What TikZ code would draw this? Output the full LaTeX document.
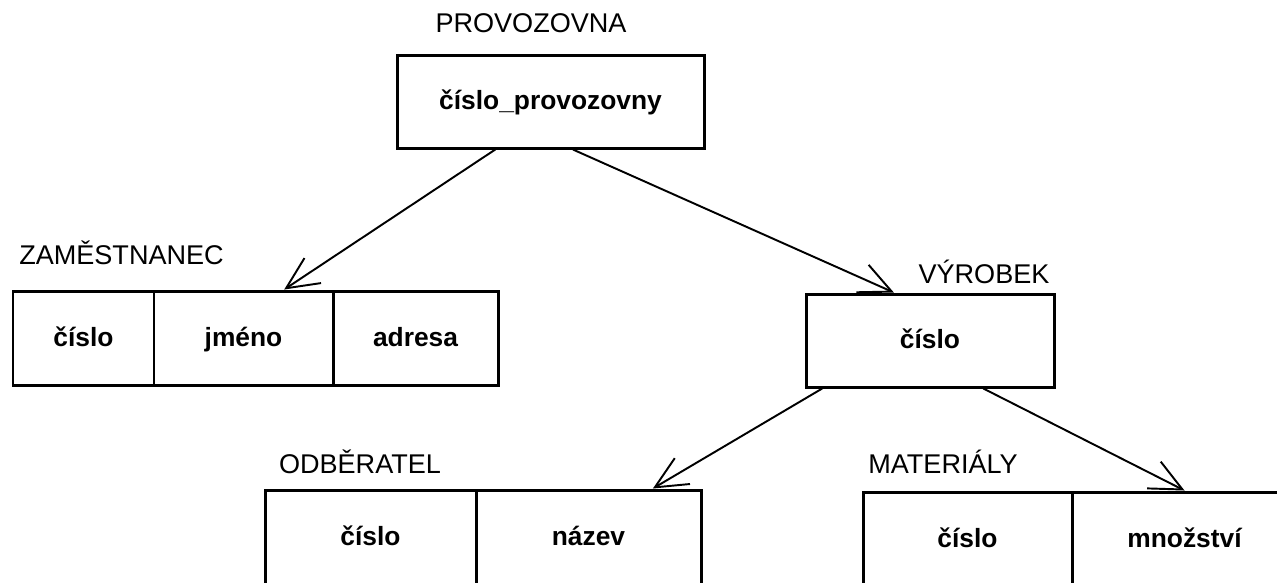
\documentclass[tikz,border=0pt]{standalone}
\usepackage{fontspec}
\setmainfont{Liberation Sans}
\usetikzlibrary{arrows.meta}

\begin{document}
\begin{tikzpicture}[
    bunka/.style={draw, line width=0.85pt, inner sep=0pt, minimum height=0.94cm, text height=0.22cm, text depth=0.06cm, font=\fontsize{7.5pt}{9pt}\selectfont\bfseries},
    nadpis/.style={inner sep=0pt, font=\fontsize{7.7pt}{9pt}\selectfont},
    sipka/.style={-{Straight Barb[length=3.2mm, width=3mm]}, line width=0.55pt}
  ]
        \useasboundingbox (0,0) rectangle (12.77,5.82);
        \clip (0,0) rectangle (12.77,5.82);
        \node[nadpis] (prov-nadpis) at (5.31,5.59) {PROVOZOVNA};
        \node[bunka, minimum width=3.07cm, minimum height=0.93cm] (prov) at (5.505,4.805) {číslo\_provozovny};
        \node[nadpis] (zam-nadpis) at (1.215,3.29) {ZAMĚSTNANEC};
        \node[bunka, minimum width=1.41cm] (zam-cislo) at (0.835,2.44) {číslo};
        \node[bunka, minimum width=1.79cm] (zam-jmeno) at (2.435,2.44) {jméno};
        \node[bunka, minimum width=1.65cm] (zam-adresa) at (4.155,2.44) {adresa};
        \node[nadpis] (vyr-nadpis) at (9.84,3.10) {VÝROBEK};
        \node[bunka, minimum width=2.48cm, minimum height=0.93cm] (vyr) at (9.30,2.415) {číslo};
        \node[nadpis] (odb-nadpis) at (3.60,1.20) {ODBĚRATEL};
        \node[bunka, minimum width=2.11cm] (odb-cislo) at (3.705,0.45) {číslo};
        \node[bunka, minimum width=2.25cm] (odb-nazev) at (5.885,0.45) {název};
        \node[nadpis] (mat-nadpis) at (9.43,1.20) {MATERIÁLY};
        \node[bunka, minimum width=2.09cm] (mat-cislo) at (9.675,0.43) {číslo};
        \node[bunka, minimum width=2.25cm] (mat-mnozstvi) at (11.845,0.43) {množství};
        \draw[sipka] (prov.221) -- (zam-jmeno.50);
        \draw[sipka] (prov.295) -- (vyr.127);
        \draw[sipka] (vyr.204) -- (odb-nazev.37);
        \draw[sipka] (vyr.318) -- (mat-mnozstvi.north);
      \end{tikzpicture}
\end{document}
